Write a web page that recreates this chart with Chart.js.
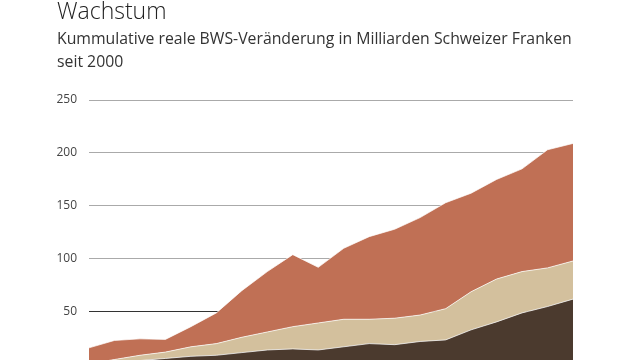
<!DOCTYPE html>
<html>
<head>
<meta charset="utf-8">
<script src="https://cdn.jsdelivr.net/npm/chart.js@4"></script>
<style>
  html, body { margin: 0; padding: 0; background: #fff; overflow: hidden; width: 640px; height: 360px; }
  #wrap { position: absolute; left: 0; top: 0; width: 640px; height: 384px; }
  .title { position: absolute; left: 57px; top: -5px; font-family: "Open Sans", sans-serif; font-weight: 300; font-size: 23px; line-height: 30px; color: #222; white-space: nowrap; }
  .sub { position: absolute; left: 57px; top: 26.5px; font-family: "Open Sans", sans-serif; font-size: 15.8px; line-height: 23px; color: #333; white-space: nowrap; }
</style>
</head>
<body>
<div id="wrap"><canvas id="chart"></canvas></div>
<div class="title">Wachstum</div>
<div class="sub">Kummulative reale BWS-Veränderung in Milliarden Schweizer Franken<br>seit 2000</div>
<script>
const years = ['2000','2001','2002','2003','2004','2005','2006','2007','2008','2009',
               '2010','2011','2012','2013','2014','2015','2016','2017','2018','2019'];
// Anteile (gestapelt), Mrd. CHF
const darkPart  = [0, 2, 4, 6, 8, 9, 11.5, 14, 15, 14, 17, 20, 19, 22, 23.5, 33, 40.5, 49, 55, 62];
const beigePart = [1, 3, 5, 6, 9, 11, 14.5, 17, 21, 25.5, 26, 23, 25, 25, 29.5, 36, 40.5, 39, 36.5, 36];
const redPart   = [15, 18, 15.5, 12, 19, 29, 44, 57, 68, 52.5, 67, 78, 84, 92, 100, 93, 94, 97, 111.5, 111];
const yTicks = [50, 100, 150, 200, 250];

const canvas = document.getElementById('chart');
canvas.width = 640;
canvas.height = 384; // etwas höher als das Fenster, die Nulllinie liegt unterhalb

function area(data, color, fill) {
    return {
        data: data,
        backgroundColor: color,
        borderColor: 'rgba(255,255,255,0.7)',
        borderWidth: 1,
        pointRadius: 0,
        tension: 0,
        fill: fill
    };
}

new Chart(canvas.getContext('2d'), {
    type: 'line',
    data: {
        labels: years,
        datasets: [
            area(darkPart, '#4b3a2e', 'origin'),
            area(beigePart, '#d3c09d', '-1'),
            area(redPart, '#c07055', '-1')
        ]
    },
    options: {
        responsive: false,
        animation: false,
        layout: { padding: { top: 100, bottom: 15, right: 67, left: 0 } },
        plugins: { legend: { display: false }, tooltip: { enabled: false } },
        scales: {
            x: { display: false, offset: false, stacked: true },
            y: {
                stacked: true,
                min: 0,
                max: 250,
                afterFit: function (axis) { axis.width = 89; },
                afterBuildTicks: function (axis) { axis.ticks = yTicks.map(v => ({ value: v })); },
                border: { display: false },
                grid: {
                    drawTicks: false,
                    lineWidth: 1,
                    color: ctx => ctx.tick && ctx.tick.value === 50 ? '#333' : '#aaa'
                },
                ticks: {
                    padding: 12,
                    color: '#444',
                    font: { family: 'Open Sans', size: 12 }
                }
            }
        }
    }
});
</script>
</body>
</html>
